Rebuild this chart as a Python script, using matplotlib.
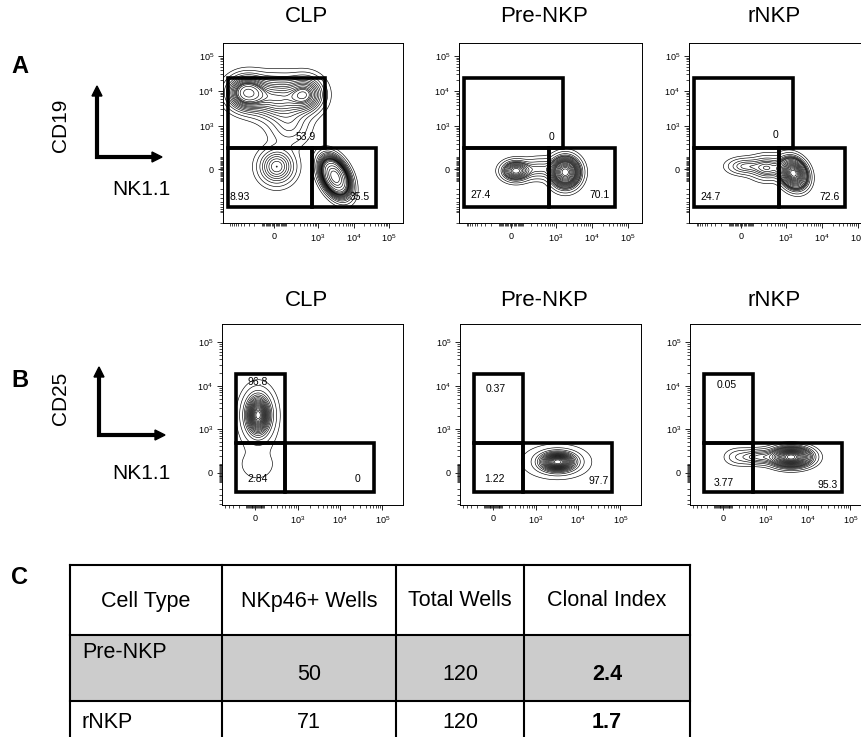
import numpy as np
import matplotlib
matplotlib.use('Agg')
import matplotlib.pyplot as plt
from matplotlib.patches import Rectangle, Polygon

plt.rcParams['font.family'] = ['Liberation Sans', 'DejaVu Sans']
plt.rcParams['mathtext.default'] = 'regular'

# ---- data -------------------------------------------------------------
columns = ['CLP', 'Pre-NKP', 'rNKP']
markers_a = ('CD19', 'NK1.1')
markers_b = ('CD25', 'NK1.1')

# gate frequencies: upper gate, lower-left gate, lower-right gate
pct_a = [['53.9', '8.93', '35.5'],
         ['0', '27.4', '70.1'],
         ['0', '24.7', '72.6']]
pct_b = [['96.8', '2.84', '0'],
         ['0.37', '1.22', '97.7'],
         ['0.05', '3.77', '95.3']]

# cell populations on the display (biexponential) scale:
# (fraction, x centre, y centre, x spread, y spread, correlation)
pops_a = [
    [(0.18, 1.00, 3.95, 0.32, 0.28, 0.0),
     (0.20, 1.85, 3.80, 0.45, 0.35, 0.0),
     (0.12, 2.65, 3.90, 0.30, 0.30, 0.0),
     (0.05, 2.20, 3.00, 0.35, 0.35, 0.0),
     (0.09, 1.84, 1.84, 0.30, 0.30, 0.0),
     (0.355, 3.48, 1.55, 0.22, 0.30, -0.4)],
    [(0.22, 1.90, 1.72, 0.22, 0.16, 0.0),
     (0.10, 2.55, 1.78, 0.28, 0.18, 0.0),
     (0.68, 3.27, 1.68, 0.22, 0.24, 0.0)],
    [(0.08, 1.85, 1.85, 0.28, 0.14, 0.0),
     (0.17, 2.50, 1.80, 0.28, 0.20, 0.0),
     (0.75, 3.22, 1.65, 0.20, 0.23, -0.2)],
]
pops_b = [
    [(0.97, 2.07, 3.32, 0.16, 0.25, 0.0),
     (0.03, 2.05, 2.20, 0.45, 0.40, 0.0)],
    [(0.49, 3.52, 2.31, 0.24, 0.11, 0.0),
     (0.49, 3.52, 2.19, 0.24, 0.11, 0.0),
     (0.02, 2.30, 2.30, 0.55, 0.45, 0.0)],
    [(0.42, 3.60, 2.42, 0.26, 0.11, 0.0),
     (0.42, 3.60, 2.30, 0.26, 0.11, 0.0),
     (0.12, 2.85, 2.36, 0.25, 0.10, 0.0),
     (0.04, 2.35, 2.36, 0.20, 0.12, 0.0)],
]

# table
table_header = ['Cell Type', 'NKp46+ Wells', 'Total Wells', 'Clonal Index']
cell_types = ['Pre-NKP', 'rNKP']
nkp46_wells = [50, 71]
total_wells = [120, 120]
clonal_index = [2.4, 1.7]

# ---- layout -----------------------------------------------------------
W, H = 862, 737
fig = plt.figure(figsize=(W / 100, H / 100), dpi=100)

ov = fig.add_axes([0, 0, 1, 1])
ov.set_xlim(0, W)
ov.set_ylim(H, 0)
ov.axis('off')

# rows: axes pixel boxes, limits, zero position, gates
row_a = dict(boxes=[(223, 43, 403, 223), (459, 43, 642, 223), (689, 43, 872, 223)],
             xlim=(0.33, 5.39), ylim=(0.23, 5.37), zero=1.77,
             gates=[(0.47, 3.20, 2.38, 4.38), (0.47, 2.83, 0.68, 2.38), (2.83, 4.63, 0.68, 2.38)],
             labels=[[(2.95, 2.69, 'right'), (0.52, 0.98, 'left'), (4.47, 0.98, 'right')],
                     [(2.96, 2.69, 'right'), (0.66, 1.03, 'left'), (4.50, 1.03, 'right')],
                     [(2.81, 2.74, 'right'), (0.65, 0.98, 'left'), (4.49, 0.98, 'right')]])
row_b = dict(boxes=[(222, 324, 403, 505), (460, 324, 641, 505), (690, 324, 871, 505)],
             xlim=(1.22, 5.48), ylim=(1.26, 5.41), zero=2.0,
             gates=[(1.54, 2.70, 2.69, 4.26), (1.54, 2.70, 1.55, 2.69), (2.70, 4.79, 1.55, 2.69)],
             labels=[[(2.07, 4.07, 'center'), (2.07, 1.85, 'center'), (4.41, 1.85, 'center')],
                     [(2.07, 3.92, 'center'), (2.04, 1.85, 'center'), (4.71, 1.81, 'right')],
                     [(2.08, 4.01, 'center'), (2.02, 1.76, 'center'), (4.69, 1.72, 'right')]])


def to_disp(v, zero):
    w = 1000 / np.sinh((3 - zero) * np.log(10))
    return zero + np.arcsinh(np.asarray(v, float) / w) / np.log(10)


def density(X, Y, pops):
    Z = np.zeros_like(X)
    for f, cx, cy, sx, sy, r in pops:
        dx = (X - cx) / sx
        dy = (Y - cy) / sy
        q = (dx ** 2 - 2 * r * dx * dy + dy ** 2) / (1 - r ** 2)
        Z += f * np.exp(-q / 2) / (2 * np.pi * sx * sy * np.sqrt(1 - r ** 2))
    return Z


def prob_levels(Z, fracs):
    zs = np.sort(Z.ravel())[::-1]
    cs = np.cumsum(zs)
    cs /= cs[-1]
    lv = [zs[min(np.searchsorted(cs, f), len(zs) - 1)] for f in fracs]
    return np.unique(lv)


def set_flow_ticks(ax, row):
    zero = row['zero']
    major = [0, 1e3, 1e4, 1e5]
    lab = ['0', '$10^3$', '$10^4$', '$10^5$']
    minor = []
    for d in (1, 2, 3, 4):
        for k in range(1, 10):
            for s in (1, -1):
                v = s * k * 10 ** d
                if v not in major:
                    minor.append(v)
    for setter, lim in ((ax.set_xticks, row['xlim']), (ax.set_yticks, row['ylim'])):
        mpos = to_disp(minor, zero)
        mpos = mpos[(mpos > lim[0]) & (mpos < lim[1])]
        setter(to_disp(major, zero), lab)
        setter(mpos, minor=True)
    ax.tick_params(which='major', direction='out', length=3.5, width=0.6, labelsize=6.5, pad=3)
    ax.tick_params(which='minor', direction='out', length=2, width=0.5)
    ax.set_xlim(row['xlim'])
    ax.set_ylim(row['ylim'])
    for sp in ax.spines.values():
        sp.set_linewidth(0.7)


fracs = list(np.arange(0.05, 0.96, 0.05)) + [0.98]


def draw_row(row, pops_list, pcts):
    for i, box in enumerate(row['boxes']):
        x0, y0, x1, y1 = box
        ax = fig.add_axes([x0 / W, 1 - y1 / H, (x1 - x0) / W, (y1 - y0) / H])
        xs = np.linspace(row['xlim'][0], row['xlim'][1], 400)
        ys = np.linspace(row['ylim'][0], row['ylim'][1], 400)
        X, Y = np.meshgrid(xs, ys)
        Z = density(X, Y, pops_list[i])
        ax.contour(X, Y, Z, levels=prob_levels(Z, fracs), colors='k', linewidths=0.45)
        for gx0, gx1, gy0, gy1 in row['gates']:
            ax.add_patch(Rectangle((gx0, gy0), gx1 - gx0, gy1 - gy0, fill=False,
                                   ec='k', lw=2.6, zorder=5, joinstyle='miter'))
        for (tx, ty, ha), s in zip(row['labels'][i], pcts[i]):
            ax.text(tx, ty, s, fontsize=7.5, ha=ha, va='center', zorder=6)
        set_flow_ticks(ax, row)


draw_row(row_a, pops_a, pct_a)
draw_row(row_b, pops_b, pct_b)

# column titles
for yt, boxes in ((16, row_a['boxes']), (300, row_b['boxes'])):
    for name, (x0, y0, x1, y1) in zip(columns, boxes):
        ov.text((x0 + x1) / 2 - 6, yt, name, fontsize=16, ha='center', va='center')

# panel letters
for letter, yl in (('A', 66), ('B', 380), ('C', 578)):
    ov.text(20, yl, letter, fontsize=17, fontweight='bold', ha='center', va='center')


def axis_key(xc, yc, top, right, ylab, xlab, ylab_y, xlab_y):
    ov.plot([xc, xc, right - 8], [top + 8, yc, yc], color='k', lw=3,
            solid_joinstyle='miter', solid_capstyle='projecting')
    ov.add_patch(Polygon([(xc - 5, top + 10), (xc + 5, top + 10), (xc, top)], closed=True, color='k'))
    ov.add_patch(Polygon([(right - 10, yc - 5), (right - 10, yc + 5), (right, yc)], closed=True, color='k'))
    ov.text(61, ylab_y, ylab, fontsize=15, rotation=90, ha='center', va='center')
    ov.text(141, xlab_y, xlab, fontsize=15, ha='center', va='center')


axis_key(97, 157, 86, 162, markers_a[0], markers_a[1], 125, 189)
axis_key(99, 435, 367, 165, markers_b[0], markers_b[1], 398, 473)

# table
col_edges = [70, 222, 396, 524, 690]
row_edges = [565, 635, 701, 770]
ov.add_patch(Rectangle((col_edges[0], row_edges[1]), col_edges[-1] - col_edges[0],
                       row_edges[2] - row_edges[1], fc='#cccccc', ec='none', zorder=1))
for x in col_edges:
    ov.plot([x, x], [row_edges[0], row_edges[-1]], color='k', lw=1.5, zorder=2)
for y in row_edges[:-1]:
    ov.plot([col_edges[0], col_edges[-1]], [y, y], color='k', lw=1.5, zorder=2)

for j, s in enumerate(table_header):
    ov.text((col_edges[j] + col_edges[j + 1]) / 2, 601, s, fontsize=15.5, ha='center', va='center')

for r, (ct, nk, tw, ci) in enumerate(zip(cell_types, nkp46_wells, total_wells, clonal_index)):
    ylab = 653 if r == 0 else 722
    yval = 675 if r == 0 else 722
    ov.text(col_edges[0] + 12, ylab, ct, fontsize=15.5, ha='left', va='center')
    for j, s in enumerate([str(nk), str(tw)]):
        ov.text((col_edges[j + 1] + col_edges[j + 2]) / 2, yval, s, fontsize=15.5,
                ha='center', va='center')
    ov.text((col_edges[3] + col_edges[4]) / 2, yval, f'{ci:.1f}', fontsize=15.5,
            fontweight='bold', ha='center', va='center')

fig.savefig('out.png', dpi=100)
